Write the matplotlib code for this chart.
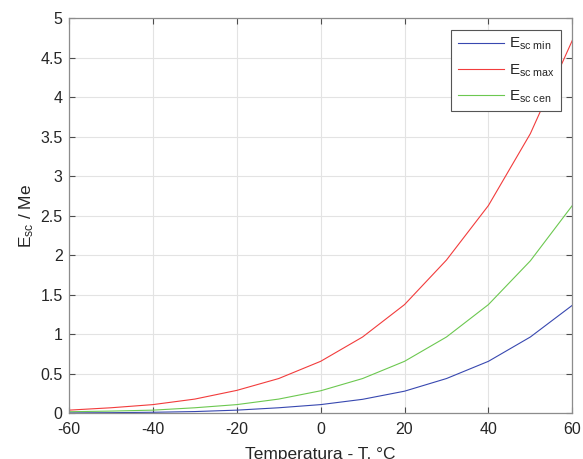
import matplotlib
matplotlib.use("Agg")
import matplotlib.pyplot as plt

plt.rcParams['font.family'] = ['Liberation Sans', 'DejaVu Sans']
plt.rcParams['mathtext.fontset'] = 'custom'
plt.rcParams['mathtext.rm'] = 'Liberation Sans'
plt.rcParams['mathtext.it'] = 'Liberation Sans'

temperature = [-60, -50, -40, -30, -20, -10, 0, 10, 20, 30, 40, 50, 60]
e_sc_min = [0.005, 0.008, 0.013, 0.022, 0.04, 0.07, 0.11, 0.177, 0.28, 0.44, 0.658, 0.966, 1.367]
e_sc_max = [0.04, 0.07, 0.11, 0.18, 0.29, 0.44, 0.658, 0.966, 1.376, 1.94, 2.63, 3.54, 4.72]
e_sc_cen = [0.02, 0.028, 0.04, 0.07, 0.11, 0.18, 0.285, 0.44, 0.658, 0.966, 1.376, 1.93, 2.63]

labels = [r'$\mathregular{E_{sc\ min}}$', r'$\mathregular{E_{sc\ max}}$', r'$\mathregular{E_{sc\ cen}}$']
xticks = [-60, -40, -20, 0, 20, 40, 60]
yticks = [0, 0.5, 1, 1.5, 2, 2.5, 3, 3.5, 4, 4.5, 5]

W, H = 583, 459
fig = plt.figure(figsize=(W / 100, H / 100), dpi=100)
ax = fig.add_axes([69 / W, (H - 413.3) / H, (572.3 - 69) / W, (413.3 - 18.3) / H])

tc = '#262626'
ax.plot(temperature, e_sc_min, color='#3848b0', lw=0.8, label=labels[0])
ax.plot(temperature, e_sc_max, color='#f23c3c', lw=0.8, label=labels[1])
ax.plot(temperature, e_sc_cen, color='#6cc850', lw=0.8, label=labels[2])

ax.set_xlim(-60, 60)
ax.set_ylim(0, 5)
ax.set_xticks(xticks)
ax.set_xticklabels([str(t) for t in xticks])
ax.set_yticks(yticks)
ax.set_yticklabels([f'{v:g}' for v in yticks])
ax.grid(True, color='#e3e3e3', lw=0.8)
ax.set_axisbelow(True)
ax.tick_params(direction='in', top=True, right=True, length=4, width=0.8,
               color='#4d4d4d', labelsize=11.5, labelcolor=tc)
ax.tick_params(axis='x', pad=6)
ax.tick_params(axis='y', pad=4.5)
for s in ax.spines.values():
    s.set_color('#8c8c8c')
    s.set_linewidth(0.9)

ax.set_xlabel('Temperatura - T, °C', fontsize=12.5, color=tc, labelpad=7.5)
ax.set_ylabel(r'$\mathregular{E_{sc}}$ / Me', fontsize=12.5, color=tc, labelpad=3)

leg = ax.legend(loc='upper right', fontsize=11, frameon=True, fancybox=False,
                edgecolor='#555555', framealpha=1, handlelength=3.05,
                borderaxespad=0.75, labelspacing=0.65, handletextpad=0.3,
                borderpad=0.4)
leg.get_frame().set_linewidth(0.8)
for t in leg.get_texts():
    t.set_color(tc)

fig.savefig('out.png', dpi=100)
